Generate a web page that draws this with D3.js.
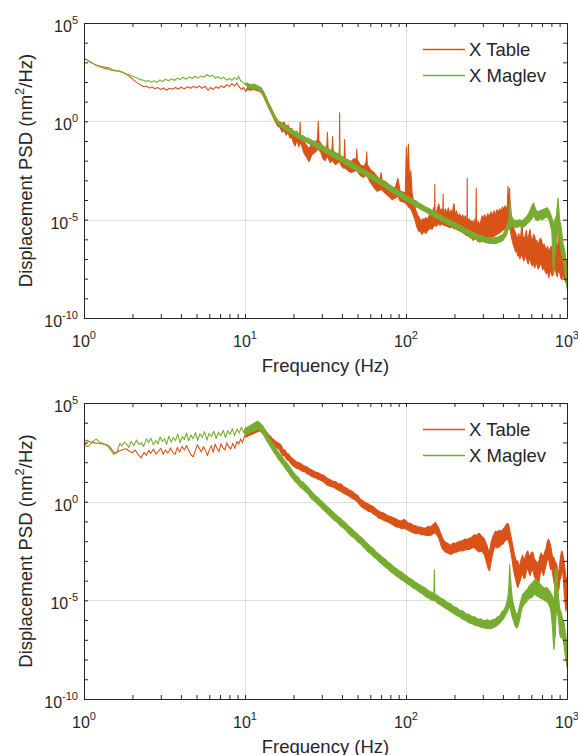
<!DOCTYPE html>
<html>
<head>
<meta charset="utf-8">
<script src="https://d3js.org/d3.v7.min.js"></script>
<style>
  body { margin: 0; background: #fff; }
  text { font-family: "Liberation Sans", Arial, Helvetica, sans-serif; fill: #262626; }
</style>
</head>
<body>
<div id="chart"></div>
<script>

// tick exponents that get a label / grid line
var xLabelExps = [0, 1, 2, 3];
var yLabelExps = [5, 0, -5, -10];
var seriesNames = ["X Table", "X Maglev"];
var seriesColors = ["#D95319", "#77AC30"];

// rows: [frequency (Hz), log10 PSD low, log10 PSD high]  (high left out = thin line)
var tableTop = [
  [1.00,3.22],[1.06,3.08],[1.12,2.97],[1.20,2.85],[1.28,2.78],[1.35,2.75],[1.42,2.72],[1.50,2.62],[1.58,2.58],[1.66,2.56],
  [1.74,2.50],[1.82,2.40],[1.92,2.28],[2.02,2.12],[2.12,1.98],[2.22,1.88],[2.35,1.76],[2.45,1.78],[2.55,1.70],[2.65,1.75],
  [2.75,1.66],[2.87,1.72],[3.00,1.62],[3.12,1.70],[3.25,1.58],[3.40,1.68],[3.55,1.63],[3.70,1.72],[3.85,1.64],[4.00,1.73],
  [4.20,1.66],[4.40,1.76],[4.60,1.68],[4.80,1.78],[5.00,1.70],[5.20,1.80],[5.40,1.68],[5.65,1.78],[5.90,1.58],[6.10,1.72],
  [6.35,1.62],[6.60,1.76],[6.85,1.68],[7.10,1.80],[7.40,1.72],[7.70,1.86],[8.00,1.78],[8.30,1.92],[8.60,1.80],[8.90,1.95],
  [9.20,1.75],[9.50,1.62],[9.80,1.72],[10.1,1.52],[10.4,1.62,1.74],[10.8,1.58,1.72],[11.2,1.62,1.80],[11.6,1.60,1.76],
  [12.0,1.55,1.74],[12.5,1.50,1.68],[13.0,1.30,1.50],[13.5,1.00,1.20],[14.0,0.70,0.90],[14.5,0.45,0.65],[15.0,0.20,0.40],
  [15.5,-0.05,0.15],[16.0,-0.25,0.00],[16.5,-0.30,-0.05],[17.0,-0.55,-0.10],[17.5,-0.45,-0.05],[18.0,-0.70,-0.25],
  [18.5,-0.55,-0.20],[19.0,-0.85,-0.40],[19.5,-0.80,-0.35],[20.0,-1.10,-0.60],[20.5,-1.25,-0.70],[21.0,-0.95,-0.50],
  [21.6,-1.30,-0.80],[21.9,-1.10,-0.60],[22.0,-1.00,-0.05],[22.1,-1.10,-0.70],[22.6,-1.30,-0.80],[23.2,-1.60,-1.00],
  [24.0,-1.80,-1.20],[25.0,-2.05,-1.40],[26.0,-1.70,-1.10],[27.0,-1.60,-1.05],[28.2,-1.45,-0.95],[28.5,-1.30,0.00],
  [28.8,-1.45,-1.00],[29.5,-1.55,-1.10],[30.5,-1.90,-1.30],[31.5,-2.00,-1.45],[32.2,-1.80,-1.30],[32.5,-1.75,-0.57],
  [32.8,-1.85,-1.35],[33.8,-2.10,-1.50],[34.7,-2.00,-1.45],[35.0,-1.95,-0.77],[35.3,-2.05,-1.50],[36.5,-2.20,-1.60],
  [37.8,-2.10,-1.65],[38.5,-2.05,-1.70],[38.7,-2.00,0.43],[38.9,-2.10,-1.70],[40.0,-2.30,-1.80],[41.3,-2.40,-1.85],
  [41.6,-2.20,-0.93],[41.9,-2.35,-1.90],[43.5,-2.50,-1.95],[45.5,-2.60,-2.05],[47.5,-2.55,-1.90],[49.2,-2.50,-1.90],
  [49.5,-2.45,-1.40],[49.8,-2.55,-1.95],[52.0,-2.75,-2.20],[54.5,-2.85,-2.30],[56.5,-2.70,-2.10],[57.0,-2.70,-1.55],
  [57.5,-2.80,-2.20],[60.0,-3.10,-2.45],[63.0,-3.35,-2.60],[66.0,-3.55,-2.80],[69.0,-3.50,-2.95],[70.0,-3.40,-2.60],
  [71.0,-3.50,-3.00],[74.0,-3.65,-3.05],[78.0,-3.80,-3.20],[82.0,-3.98,-3.40],[86.0,-3.90,-3.35],[89.0,-3.80,-2.90],
  [92.0,-4.05,-3.55],[96.0,-4.10,-3.60],[99.0,-4.15,-3.65],[100.5,-4.20,-1.30],[102,-4.25,-2.80],[103.5,-4.35,-1.15],
  [105,-4.40,-3.00],[107,-4.45,-2.50],[109,-4.60,-3.60],[112,-4.85,-4.20],[114,-5.05,-4.40],[116,-5.30,-4.60],
  [118,-5.45,-4.75],[120,-5.60,-4.85],[122.5,-5.55,-5.00],[125,-5.75,-5.05],[127.5,-5.65,-4.95],[130,-5.62,-5.00],
  [133,-5.70,-4.90],[136,-5.55,-5.00],[139,-5.50,-4.80],[142,-5.42,-4.70],[145,-5.50,-4.85],[148,-5.35,-4.40],
  [150.5,-5.30,-4.55],[151,-5.20,-3.20],[151.5,-5.25,-4.50],[154,-5.35,-4.70],[157,-5.25,-4.40],[160,-5.20,-4.20],
  [162.5,-5.30,-4.60],[165,-5.25,-4.45],[167.5,-5.20,-4.60],[169.5,-5.25,-4.40],[170,-5.20,-3.70],[170.5,-5.25,-4.40],
  [173,-5.30,-4.65],[176,-5.28,-4.45],[179.5,-5.35,-4.70],[183,-5.35,-4.40],[186.5,-5.40,-4.75],[190,-5.40,-4.50],
  [194,-5.35,-4.70],[197.5,-5.45,-4.25],[198.5,-5.40,-4.20],[202,-5.48,-4.75],[206,-5.45,-4.55],[210,-5.55,-4.85],
  [215,-5.55,-4.70],[220,-5.62,-4.90],[225,-5.65,-4.75],[229,-5.70,-5.00],[233,-5.75,-4.80],[237,-5.80,-5.00],
  [239.3,-5.80,-4.90],[240,-5.80,-2.90],[240.7,-5.80,-4.95],[244,-5.85,-5.05],[248,-5.85,-4.95],[252,-5.95,-5.15],
  [257,-5.90,-5.05],[261,-6.05,-5.20],[266,-6.00,-5.05],[272,-5.95,-4.90],[273,-5.90,-3.40],[274,-5.95,-5.00],
  [278,-6.10,-5.25],[282,-6.05,-5.10],[287,-6.15,-5.30],[292,-6.10,-5.05],[297,-6.05,-4.80],[302,-6.10,-5.00],
  [308,-6.00,-4.75],[315,-6.05,-4.95],[322,-5.95,-4.70],[330,-5.90,-4.85],[337,-5.95,-4.60],[345,-5.85,-4.80],
  [352,-5.85,-4.55],[360,-5.80,-4.75],[367,-5.75,-4.50],[375,-5.70,-4.65],[382,-5.65,-4.45],[390,-5.62,-4.60],
  [397,-5.55,-4.35],[405,-5.50,-4.50],[412,-5.45,-4.30],[420,-5.40,-4.40],[426,-5.45,-4.35],[430,-5.30,-3.30],
  [434,-5.40,-4.30],[438,-5.45,-3.90],[440,-5.40,-3.40],[443,-5.50,-4.40],[447,-5.65,-4.60],[452,-5.90,-4.85],
  [458,-6.10,-5.10],[465,-6.30,-5.35],[472,-6.45,-5.55],[480,-6.65,-5.70],[487,-6.55,-5.85],[495,-6.85,-5.90],
  [502,-6.75,-5.70],[510,-7.00,-6.05],[517,-6.85,-5.75],[525,-6.80,-5.20],[532,-6.95,-5.80],[540,-7.10,-6.05],
  [550,-6.85,-5.80],[560,-6.95,-5.55],[567,-7.15,-6.00],[575,-7.25,-5.90],[582,-6.95,-5.70],[590,-7.05,-5.50],
  [600,-7.25,-5.95],[610,-7.35,-6.05],[620,-7.15,-5.75],[630,-7.45,-5.85],[640,-7.30,-6.20],[650,-7.20,-6.05],
  [660,-7.50,-6.30],[670,-7.45,-6.15],[682,-7.20,-5.95],[695,-7.35,-6.05],[707,-7.55,-6.35],[720,-7.40,-6.25],
  [732,-7.65,-6.40],[745,-7.75,-6.55],[757,-7.60,-6.35],[770,-7.95,-6.65],[782,-7.70,-6.50],[795,-7.60,-6.35],
  [807,-7.85,-6.60],[820,-7.80,-6.15],[832,-7.55,-6.30],[845,-7.50,-5.80],[857,-7.75,-6.20],[870,-7.90,-6.45],
  [885,-7.55,-6.00],[900,-7.70,-5.60],[915,-7.95,-6.50],[930,-8.05,-6.90],[945,-7.80,-6.40],[960,-7.95,-6.65],
  [980,-8.20,-7.00],[1000,-8.10,-7.20]
];

var maglevTop = [
  [1.00,3.22],[1.06,3.08],[1.12,2.96],[1.20,2.84],[1.28,2.74],[1.36,2.68],[1.44,2.62],[1.52,2.58],[1.60,2.56],[1.68,2.52],
  [1.76,2.47],[1.84,2.41],[1.93,2.36],[2.02,2.28],[2.12,2.22],[2.22,2.12],[2.32,2.10],[2.42,2.02],[2.52,2.08],[2.62,1.98],
  [2.72,2.06],[2.84,1.98],[2.96,2.10],[3.08,2.02],[3.20,2.14],[3.35,2.06],[3.50,2.16],[3.65,2.08],[3.80,2.20],[3.95,2.12],
  [4.12,2.24],[4.30,2.14],[4.50,2.26],[4.70,2.18],[4.90,2.30],[5.10,2.20],[5.32,2.30],[5.55,2.24],[5.80,2.38],[6.05,2.28],
  [6.30,2.34],[6.55,2.20],[6.80,2.28],[7.10,2.16],[7.40,2.24],[7.70,2.10],[8.00,2.18],[8.30,2.08],[8.60,2.22],[8.90,2.12],
  [9.10,2.30],[9.40,2.05],[9.70,1.98],[10.0,1.90],[10.3,1.80,1.95],[10.6,1.70,1.90],[11.0,1.66,1.86],[11.4,1.68,1.90],
  [11.8,1.62,1.84],[12.2,1.60,1.78],[12.6,1.50,1.70],[13.0,1.32,1.52],[13.5,1.05,1.25],[14.0,0.75,0.95],[14.5,0.50,0.70],
  [15.0,0.25,0.45],[15.5,0.05,0.22],[16.0,-0.12,0.05],[17.0,-0.32,-0.12],[18.0,-0.45,-0.25],[19.0,-0.58,-0.38],
  [20.0,-0.70,-0.48],[21.0,-0.82,-0.55],[22.0,-0.90,-0.68],[23.0,-0.99,-0.74],[24.0,-1.05,-0.84],[25.0,-1.14,-0.88],
  [26.0,-1.20,-0.96],[27.0,-1.29,-1.02],[28.0,-1.34,-1.10],[29.0,-1.42,-1.14],[30.0,-1.47,-1.22],[31.5,-1.58,-1.30],
  [33.0,-1.67,-1.42],[34.5,-1.78,-1.50],[36.0,-1.85,-1.60],[37.3,-1.93,-1.66],[38.5,-1.97,-1.72],[38.7,-2.00,-0.95],
  [38.9,-2.00,-1.75],[40.0,-2.08,-1.82],[42.0,-2.20,-1.90],[44.0,-2.28,-2.02],[46.0,-2.38,-2.08],[48.0,-2.45,-2.20],
  [50.5,-2.56,-2.28],[53.0,-2.65,-2.40],[55.5,-2.76,-2.48],[58.0,-2.83,-2.58],[61.0,-2.95,-2.66],[64.0,-3.03,-2.78],
  [67.0,-3.15,-2.86],[70.0,-3.23,-2.98],[73.5,-3.36,-3.06],[77.0,-3.45,-3.20],[81.0,-3.58,-3.28],[85.0,-3.68,-3.42],
  [88.5,-3.78,-3.48],[92.0,-3.85,-3.60],[96.0,-3.96,-3.66],[100,-4.03,-3.78],[105,-4.14,-3.86],[110,-4.23,-3.98],
  [115,-4.34,-4.04],[120,-4.41,-4.15],[126,-4.52,-4.24],[132,-4.60,-4.35],[138,-4.70,-4.42],[145,-4.78,-4.53],
  [152,-4.90,-4.60],[160,-4.98,-4.73],[167,-5.08,-4.80],[175,-5.14,-4.90],[182,-5.24,-4.96],[190,-5.30,-5.05],
  [200,-5.42,-5.14],[210,-5.50,-5.25],[220,-5.60,-5.32],[230,-5.68,-5.42],[242,-5.80,-5.50],[255,-5.88,-5.62],
  [267,-5.97,-5.68],[280,-6.03,-5.77],[295,-6.10,-5.82],[310,-6.15,-5.88],[325,-6.20,-5.90],[340,-6.20,-5.95],
  [355,-6.22,-5.92],[370,-6.18,-5.90],[385,-6.12,-5.82],[400,-6.05,-5.75],[420,-5.80,-5.40],[435,-5.40,-5.00],
  [443,-5.50,-3.95],[452,-5.30,-4.80],[465,-5.35,-5.00],[485,-5.40,-5.05],[505,-5.35,-5.00],[525,-5.40,-5.05],
  [545,-5.35,-4.95],[565,-5.20,-4.80],[585,-5.10,-4.60],[605,-4.95,-4.30],[620,-4.80,-4.15],[640,-5.00,-4.50],
  [660,-5.05,-4.60],[680,-4.95,-4.55],[705,-5.00,-4.50],[730,-4.90,-4.45],[755,-4.85,-4.40],[780,-5.10,-4.60],
  [805,-5.60,-4.90],[825,-7.80,-5.20],[840,-6.80,-5.00],[860,-6.20,-4.80],[880,-5.50,-3.90],[900,-6.00,-5.00],
  [920,-6.60,-5.40],[945,-7.00,-6.20],[970,-7.60,-6.60],[1000,-8.50,-7.80]
];

var tableBottom = [
  [1.00,3.14],[1.05,3.08],[1.10,3.02],[1.16,2.98],[1.22,2.96],[1.30,2.92],[1.38,2.88],[1.44,2.80],[1.50,2.60],[1.55,2.46],
  [1.61,2.52],[1.67,2.58],[1.75,2.64],[1.83,2.68],[1.91,2.55],[2.00,2.48],[2.08,2.62],[2.17,2.38],[2.27,2.22],[2.36,2.50],
  [2.44,2.35],[2.52,2.60],[2.60,2.45],[2.70,2.66],[2.80,2.42],[2.90,2.55],[3.00,2.70],[3.10,2.40],[3.20,2.62],[3.32,2.46],
  [3.44,2.72],[3.56,2.50],[3.68,2.40],[3.80,2.74],[3.93,2.52],[4.06,2.80],[4.20,2.62],[4.34,2.84],[4.50,2.55],[4.64,2.35],
  [4.78,2.28],[4.92,2.62],[5.06,2.88],[5.20,2.70],[5.35,2.52],[5.52,2.78],[5.68,2.60],[5.85,2.34],[6.02,2.65],[6.18,2.84],
  [6.35,2.50],[6.52,2.92],[6.70,2.70],[6.90,2.55],[7.10,2.94],[7.30,2.72],[7.50,2.62],[7.70,2.98],[7.92,2.80],[8.15,2.66],
  [8.40,2.95],[8.65,2.70],[8.90,3.05],[9.15,2.92],[9.40,3.18],[9.65,2.98],[9.90,3.30],[10.2,3.28,3.42],[10.6,3.35,3.52],
  [11.0,3.40,3.58],[11.5,3.48,3.65],[12.0,3.55,3.74],[12.5,3.60,3.78],[13.0,3.50,3.72],[13.5,3.35,3.58],[14.0,3.15,3.40],
  [14.5,3.00,3.28],[15.0,2.90,3.15],[15.5,2.78,3.05],[16.3,2.65,2.95],[16.8,2.45,2.85],[17.2,2.35,2.65],[17.7,2.30,2.62],
  [18.2,2.12,2.45],[18.7,2.08,2.40],[19.3,1.92,2.25],[20.0,1.80,2.15],[20.8,1.70,2.02],[21.6,1.66,1.98],[22.5,1.55,1.90],
  [23.4,1.52,1.80],[24.3,1.42,1.76],[25.3,1.35,1.65],[26.3,1.25,1.58],[27.4,1.22,1.50],[28.5,1.12,1.47],[29.7,1.08,1.38],
  [31.0,0.98,1.32],[32.2,0.85,1.20],[33.5,0.80,1.13],[35.0,0.75,1.05],[36.5,0.68,1.02],[38.0,0.58,0.90],[39.5,0.52,0.90],
  [41.0,0.42,0.76],[42.4,0.36,0.70],[44.2,0.28,0.60],[46.0,0.18,0.54],[48.0,0.10,0.40],[50.0,-0.02,0.32],[52.0,-0.20,0.12],
  [53.8,-0.30,0.06],[56.0,-0.38,-0.06],[58.0,-0.48,-0.10],[60.5,-0.52,-0.20],[63.0,-0.64,-0.26],[65.5,-0.72,-0.40],
  [68.0,-0.85,-0.48],[70.5,-0.88,-0.55],[73.0,-0.95,-0.58],[76.5,-1.02,-0.70],[80.0,-1.10,-0.75],[83.5,-1.18,-0.82],
  [87.0,-1.28,-0.88],[90.5,-1.30,-0.96],[94.0,-1.38,-0.98],[97.0,-1.33,-0.90],[100,-1.38,-0.97],[103.5,-1.45,-1.08],
  [107,-1.52,-1.10],[111,-1.58,-1.20],[115,-1.62,-1.22],[119.5,-1.60,-1.28],[124,-1.68,-1.28],[128.5,-1.66,-1.35],
  [133,-1.72,-1.32],[138,-1.70,-1.25],[143,-1.70,-1.28],[147.5,-1.62,-1.15],[152,-1.58,-1.05],[156,-1.70,-1.20],
  [160,-1.85,-1.35],[164,-2.15,-1.60],[168,-2.38,-1.80],[173,-2.50,-2.00],[178,-2.58,-2.08],[184,-2.62,-2.15],
  [190,-2.68,-2.22],[196,-2.60,-2.10],[203,-2.58,-2.12],[210,-2.52,-2.05],[217,-2.48,-2.00],[224,-2.50,-1.98],
  [232,-2.45,-1.90],[240,-2.42,-1.92],[248,-2.42,-1.85],[256,-2.35,-1.80],[265,-2.32,-1.68],[275,-2.45,-1.70],
  [285,-2.55,-1.60],[295,-2.50,-1.75],[305,-2.65,-1.85],[312,-2.90,-2.05],[318,-3.15,-2.20],[324,-3.40,-2.45],
  [330,-3.50,-2.50],[337,-3.10,-2.10],[345,-2.65,-1.80],[352,-2.40,-1.65],[360,-2.25,-1.50],[369,-2.35,-1.55],
  [378,-2.30,-1.45],[389,-2.20,-1.50],[400,-2.15,-1.40],[410,-2.00,-1.30],[420,-1.95,-1.15],[428,-1.90,-1.10],
  [435,-2.05,-1.20],[442,-2.30,-1.50],[450,-2.65,-1.80],[457,-3.00,-2.10],[465,-3.45,-2.40],[472,-3.70,-2.70],
  [480,-3.95,-2.90],[488,-4.20,-3.10],[495,-4.35,-3.00],[502,-4.20,-3.30],[510,-4.05,-3.20],[520,-3.80,-2.90],
  [530,-3.65,-2.70],[540,-3.90,-3.00],[550,-3.85,-2.80],[560,-3.50,-2.60],[570,-3.35,-2.50],[580,-3.60,-2.70],
  [590,-3.75,-2.80],[602,-3.50,-2.55],[615,-3.45,-2.60],[627,-3.80,-2.90],[640,-3.95,-3.00],[652,-4.10,-3.10],
  [665,-4.25,-3.10],[677,-3.80,-2.80],[690,-3.45,-2.60],[702,-3.55,-2.70],[715,-3.75,-2.80],[727,-3.50,-2.55],
  [740,-3.25,-2.40],[752,-3.00,-2.10],[765,-2.85,-1.90],[777,-3.10,-2.00],[790,-3.45,-2.20],[802,-3.30,-2.50],
  [815,-3.65,-2.90],[827,-4.00,-2.80],[840,-4.25,-3.00],[852,-4.50,-3.10],[865,-4.65,-3.20],[877,-4.55,-3.50],
  [890,-4.45,-3.70],[902,-4.00,-3.10],[915,-3.85,-2.70],[927,-3.60,-2.50],[940,-3.45,-2.60],[952,-4.10,-2.90],
  [965,-4.85,-3.20],[975,-5.20,-3.50],[985,-5.55,-3.80],[1000,-5.20,-4.00]
];

var maglevBottom = [
  [1.00,3.05],[1.04,2.78],[1.08,2.85],[1.13,3.05],[1.19,3.17],[1.25,3.02],[1.32,2.95],[1.39,2.85],[1.46,2.62],[1.53,2.40],
  [1.60,2.48],[1.67,2.95],[1.72,2.82],[1.78,3.02],[1.84,2.92],[1.90,2.75],[1.96,3.05],[2.04,2.85],[2.12,3.12],[2.20,2.90],
  [2.27,2.98],[2.35,2.80],[2.44,3.18],[2.52,3.00],[2.60,3.22],[2.70,2.88],[2.80,3.10],[2.88,2.92],[2.97,3.28],[3.07,3.05],
  [3.16,3.18],[3.26,2.90],[3.37,3.32],[3.48,3.02],[3.58,3.25],[3.70,3.10],[3.82,3.42],[3.95,3.00],[4.08,3.30],[4.20,3.15],
  [4.33,3.48],[4.47,3.08],[4.62,3.38],[4.76,3.18],[4.92,3.50],[5.08,3.10],[5.25,3.44],[5.42,3.25],[5.60,3.55],[5.80,3.12],
  [5.98,3.46],[6.18,3.30],[6.40,3.58],[6.62,3.20],[6.85,3.52],[7.08,3.34],[7.32,3.62],[7.56,3.25],[7.82,3.60],[8.08,3.40],
  [8.35,3.70],[8.62,3.35],[8.92,3.68],[9.20,3.48],[9.50,3.78],[9.80,3.52],
  [10.1,3.40,3.75],[10.5,3.45,3.80],[11.0,3.55,3.90],[11.5,3.60,4.00],[12.0,3.70,4.08],[12.5,3.55,3.95],[13.0,3.40,3.80],
  [13.5,3.15,3.55],[14.0,2.95,3.30],[14.5,2.75,3.10],[15.0,2.55,2.90],[15.7,2.30,2.65],[16.3,2.10,2.45],[16.8,1.98,2.35],
  [17.2,1.85,2.22],[17.6,1.75,2.10],[18.1,1.60,1.98],[18.6,1.48,1.85],[19.2,1.30,1.70],[19.7,1.20,1.55],[20.3,1.05,1.42],
  [20.9,0.95,1.30],[21.5,0.85,1.22],[22.2,0.72,1.05],[23.0,0.62,0.98],[23.8,0.50,0.85],[24.6,0.40,0.74],[25.4,0.22,0.60],
  [26.3,0.10,0.46],[27.3,0.00,0.32],[28.3,-0.14,0.22],[29.4,-0.25,0.08],[30.5,-0.40,-0.04],[31.7,-0.52,-0.18],
  [33.0,-0.66,-0.30],[34.5,-0.82,-0.45],[36.0,-0.96,-0.60],[37.5,-1.05,-0.72],[39.0,-1.22,-0.84],[40.7,-1.32,-0.98],
  [42.4,-1.46,-1.10],[44.2,-1.62,-1.25],[46.0,-1.76,-1.36],[48.0,-1.86,-1.52],[50.0,-2.02,-1.64],[52.0,-2.12,-1.78],
  [54.0,-2.27,-1.88],[56.0,-2.40,-2.02],[58.0,-2.54,-2.14],[60.5,-2.64,-2.30],[63.0,-2.80,-2.40],[65.5,-2.90,-2.56],
  [68.0,-3.04,-2.66],[71.0,-3.16,-2.80],[74.0,-3.30,-2.90],[77.0,-3.40,-3.05],[80.0,-3.54,-3.14],[83.5,-3.64,-3.28],
  [87.0,-3.77,-3.38],[90.5,-3.86,-3.50],[94.0,-3.97,-3.56],[97.0,-4.02,-3.68],[100,-4.12,-3.74],[105,-4.22,-3.88],
  [110,-4.36,-3.96],[115,-4.44,-4.10],[120,-4.56,-4.18],[126,-4.66,-4.30],[132,-4.80,-4.38],[138,-4.88,-4.52],
  [145,-5.00,-4.60],[149,-5.00,-4.66],[150,-4.95,-3.45],[151,-5.02,-4.70],[154,-5.08,-4.72],[158,-5.16,-4.78],
  [165,-5.24,-4.90],[172,-5.36,-4.96],[180,-5.44,-5.10],[188,-5.56,-5.16],[196,-5.64,-5.30],[205,-5.76,-5.36],
  [215,-5.84,-5.50],[225,-5.96,-5.54],[235,-6.02,-5.68],[245,-6.12,-5.70],[256,-6.18,-5.82],[268,-6.26,-5.84],
  [280,-6.30,-5.96],[292,-6.36,-5.94],[306,-6.40,-6.04],[320,-6.42,-5.98],[332,-6.44,-6.06],[345,-6.40,-5.98],
  [357,-6.34,-5.96],[370,-6.26,-5.84],[382,-6.15,-5.78],[395,-6.02,-5.58],[405,-5.90,-5.50],[415,-5.76,-5.32],
  [423,-5.62,-5.10],[430,-5.52,-4.80],[436,-5.40,-4.20],[440,-5.22,-3.20],[445,-5.40,-3.80],[450,-5.62,-4.30],
  [457,-5.85,-4.90],[465,-6.02,-5.20],[472,-6.20,-5.40],[480,-6.36,-5.60],[487,-6.40,-5.72],[493,-6.36,-5.70],
  [500,-6.20,-5.50],[510,-5.92,-5.20],[520,-5.55,-4.95],[530,-5.32,-4.70],[542,-5.20,-4.62],[555,-5.12,-4.50],
  [567,-5.00,-4.45],[580,-4.92,-4.30],[595,-4.88,-4.20],[610,-4.82,-4.10],[625,-4.70,-4.00],[640,-4.72,-3.90],
  [655,-4.80,-4.05],[670,-4.82,-4.10],[685,-4.90,-4.20],[700,-4.92,-4.30],[715,-4.96,-4.35],[730,-5.02,-4.40],
  [745,-5.05,-4.35],[760,-5.12,-4.40],[775,-5.25,-4.50],[790,-5.42,-4.60],[803,-5.90,-4.70],[815,-6.50,-4.80],
  [822,-7.10,-5.00],[830,-7.50,-5.20],[838,-7.00,-4.60],[845,-6.80,-3.40],[855,-5.80,-3.80],[865,-5.20,-3.40],
  [875,-5.60,-4.30],[885,-6.00,-4.80],[895,-6.40,-5.20],[905,-6.80,-5.50],[918,-6.90,-5.60],[930,-6.80,-5.80],
  [945,-7.00,-6.00],[960,-7.30,-6.20],[972,-7.70,-6.50],[985,-8.00,-6.80],[1000,-8.40,-7.80]
];

var W = 578, H = 755;
var left = 84, right = 567;

var svg = d3.select("#chart")
  .append("svg")
  .attr("width", W)
  .attr("height", H);

function pow10Label(sel, exp) {
  sel.append("tspan").text("10");
  sel.append("tspan").attr("dy", -8).attr("font-size", 11).text(exp);
}

function drawPanel(top, bottom, tableData, maglevData, id) {
  var x = d3.scaleLog().domain([1, 1000]).range([left, right]);
  var y = d3.scaleLog().domain([1e-10, 1e5]).range([bottom, top]);
  var g = svg.append("g").attr("class", "panel-" + id);

  // grid (only at labelled ticks)
  g.selectAll(".gx")
    .data([10, 100])
    .enter().append("line")
    .attr("x1", function(d) { return Math.round(x(d)) + 0.5; })
    .attr("x2", function(d) { return Math.round(x(d)) + 0.5; })
    .attr("y1", top).attr("y2", bottom)
    .attr("stroke", "rgba(38,38,38,0.15)");
  g.selectAll(".gy")
    .data([1, 1e-5])
    .enter().append("line")
    .attr("y1", function(d) { return Math.round(y(d)) + 0.5; })
    .attr("y2", function(d) { return Math.round(y(d)) + 0.5; })
    .attr("x1", left).attr("x2", right)
    .attr("stroke", "rgba(38,38,38,0.15)");

  svg.append("clipPath").attr("id", "clip-" + id)
    .append("rect")
    .attr("x", left).attr("y", top)
    .attr("width", right - left).attr("height", bottom - top);

  var area = d3.area()
    .x(function(d) { return x(d[0]); })
    .y0(function(d) { return y(Math.pow(10, d[1])); })
    .y1(function(d) { return y(Math.pow(10, d.length > 2 ? d[2] : d[1])); });

  var lines = g.append("g").attr("clip-path", "url(#clip-" + id + ")");
  [tableData, maglevData].forEach(function(data, i) {
    lines.append("path")
      .datum(data)
      .attr("d", area)
      .attr("fill", seriesColors[i])
      .attr("stroke", seriesColors[i])
      .attr("stroke-width", 1.1)
      .attr("stroke-linejoin", "round");
  });

  // box with inward ticks
  var xt = x.ticks();
  var yt = d3.range(-10, 6).map(function(e) { return Math.pow(10, e); });
  g.append("g").attr("transform", "translate(0," + bottom + ")")
    .call(d3.axisBottom(x).tickValues(xt).tickSizeInner(-4).tickSizeOuter(0).tickFormat(""))
    .attr("color", "#262626");
  g.append("g").attr("transform", "translate(0," + top + ")")
    .call(d3.axisTop(x).tickValues(xt).tickSizeInner(-4).tickSizeOuter(0).tickFormat(""))
    .attr("color", "#262626");
  g.append("g").attr("transform", "translate(" + left + ",0)")
    .call(d3.axisLeft(y).tickValues(yt).tickSizeInner(-4).tickSizeOuter(0).tickFormat(""))
    .attr("color", "#262626");
  g.append("g").attr("transform", "translate(" + right + ",0)")
    .call(d3.axisRight(y).tickValues(yt).tickSizeInner(-4).tickSizeOuter(0).tickFormat(""))
    .attr("color", "#262626");

  // tick labels
  xLabelExps.forEach(function(e) {
    g.append("text")
      .attr("x", x(Math.pow(10, e)))
      .attr("y", bottom + 29)
      .attr("text-anchor", "middle")
      .attr("font-size", 16)
      .call(pow10Label, e);
  });
  yLabelExps.forEach(function(e) {
    g.append("text")
      .attr("x", left - 6)
      .attr("y", y(Math.pow(10, e)) + 9)
      .attr("text-anchor", "end")
      .attr("font-size", 16)
      .call(pow10Label, e);
  });

  // axis labels
  g.append("text")
    .attr("x", (left + right) / 2)
    .attr("y", bottom + 54)
    .attr("text-anchor", "middle")
    .attr("font-size", 18.5)
    .text("Frequency (Hz)");
  var yl = g.append("text")
    .attr("transform", "translate(32," + (top + bottom) / 2 + ") rotate(-90)")
    .attr("text-anchor", "middle")
    .attr("font-size", 18.5);
  yl.append("tspan").text("Displacement PSD (nm");
  yl.append("tspan").attr("dy", -8).attr("font-size", 13).text("2");
  yl.append("tspan").attr("dy", 8).text("/Hz)");

  // legend
  var leg = g.append("g").attr("transform", "translate(423," + (top + 26) + ")");
  seriesNames.forEach(function(name, i) {
    leg.append("line")
      .attr("x1", 0).attr("x2", 42)
      .attr("y1", i * 26 + 0.5).attr("y2", i * 26 + 0.5)
      .style("stroke", seriesColors[i])
      .style("stroke-width", 1.3);
    leg.append("text")
      .attr("x", 46)
      .attr("y", i * 26 + 6.5)
      .attr("font-size", 18.5)
      .text(name);
  });
}

drawPanel(23, 318, tableTop, maglevTop, "top");
drawPanel(403, 699, tableBottom, maglevBottom, "bottom");

</script>
</body>
</html>
